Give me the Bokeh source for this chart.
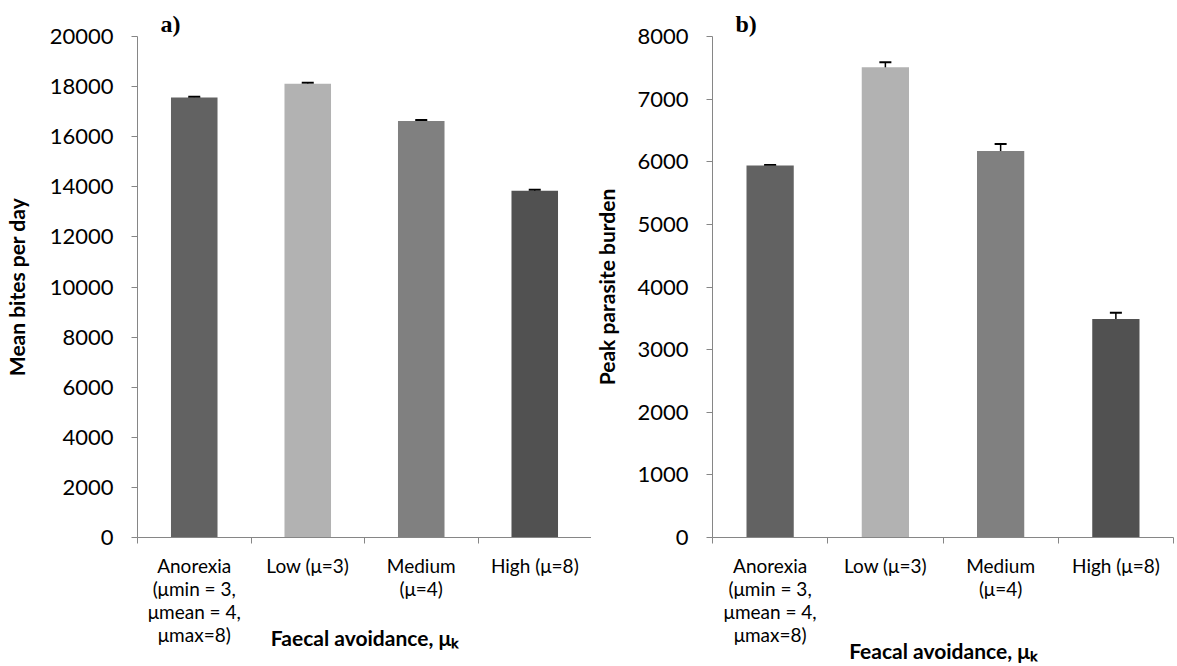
import numpy as np
from bokeh.plotting import figure
from bokeh.layouts import row
from bokeh.models import (Range1d, FixedTicker, SingleIntervalTicker, Whisker,
                          ColumnDataSource, TeeHead, Title)
from bokeh.embed import file_html
from bokeh.resources import INLINE

# ---- data ----
categories = ["Anorexia\n(μmin = 3,\nμmean = 4,\nμmax=8)", "Low (μ=3)", "Medium\n(μ=4)", "High (μ=8)"]
bar_colors = ["#626262", "#b2b2b2", "#808080", "#515151"]
bites_mean = [17560, 18110, 16630, 13840]
bites_err = [30, 40, 35, 40]
burden_mean = [5940, 7510, 6170, 3490]
burden_err = [10, 80, 115, 100]

FONT = "Lato"
AXIS_COLOR = "#868686"
FIG_H = 666
TOP_B = 36
FRAME_H = 501
BOT_B = FIG_H - TOP_B - FRAME_H


def make_panel(vals, errs, ymax, step, fig_w, border_left, border_right, letter, letter_off,
               ytitle, ytitle_standoff, xtitle, xtitle_standoff):
    n = len(vals)
    p = figure(width=fig_w, height=FIG_H, output_backend="svg", toolbar_location=None,
               x_range=Range1d(0, n), y_range=Range1d(0, ymax),
               min_border_left=border_left, min_border_right=border_right,
               min_border_top=TOP_B, min_border_bottom=BOT_B)
    p.outline_line_color = None
    p.xgrid.grid_line_color = None
    p.ygrid.grid_line_color = None
    p.background_fill_color = "white"
    p.border_fill_color = "white"

    xs = list(np.arange(n) + 0.5)
    src = ColumnDataSource(dict(x=xs, top=vals, color=bar_colors,
                                lo=[v - e for v, e in zip(vals, errs)],
                                hi=[v + e for v, e in zip(vals, errs)]))
    p.vbar(x="x", top="top", bottom=0, width=0.41, fill_color="color", line_color=None, source=src)
    w = Whisker(base="x", lower="lo", upper="hi", source=src, line_color="black", line_width=1.5,
                upper_head=TeeHead(size=12, line_width=2, line_color="black"),
                lower_head=TeeHead(size=12, line_width=2, line_color="black"))
    p.add_layout(w)

    # x axis
    xa = p.xaxis[0]
    xa.ticker = FixedTicker(ticks=xs, minor_ticks=list(range(n + 1)))
    xa.major_label_overrides = {x: c for x, c in zip(xs, categories)}
    xa.major_tick_out = 0
    xa.major_tick_in = 0
    xa.minor_tick_out = 6
    xa.minor_tick_in = 0
    xa.minor_tick_line_color = AXIS_COLOR
    xa.axis_line_color = AXIS_COLOR
    xa.major_label_text_font = FONT
    xa.major_label_text_font_size = "19px"
    xa.major_label_text_color = "#000000"
    xa.major_label_text_line_height = 1.0
    xa.major_label_standoff = 10
    xa.major_label_text_align = "center"
    xa.axis_label = xtitle
    xa.axis_label_text_font = FONT
    xa.axis_label_text_font_style = "bold"
    xa.axis_label_text_font_size = "21px"
    xa.axis_label_text_color = "#000000"
    xa.axis_label_standoff = xtitle_standoff

    ya = p.yaxis[0]
    ya.ticker = SingleIntervalTicker(interval=step, num_minor_ticks=0)
    ya.axis_line_color = AXIS_COLOR
    ya.major_tick_line_color = AXIS_COLOR
    ya.major_tick_out = 6
    ya.major_tick_in = 0
    ya.minor_tick_line_color = None
    ya.major_label_text_font = FONT
    ya.major_label_text_font_size = "22px"
    ya.major_label_text_color = "#000000"
    ya.major_label_standoff = 18
    ya.axis_label = ytitle
    ya.axis_label_text_font = FONT
    ya.axis_label_text_font_style = "bold"
    ya.axis_label_text_font_size = "21px"
    ya.axis_label_text_color = "#000000"
    ya.axis_label_standoff = ytitle_standoff

    p.add_layout(Title(text=letter, align="left", offset=letter_off, standoff=0,
                       text_font="Liberation Serif", text_font_style="bold",
                       text_font_size="24px", text_color="black"), "above")
    return p


pa = make_panel(bites_mean, bites_err, 20000, 2000, 591, 137, 0, "a)", 23,
                "Mean bites per day", 18, "Faecal avoidance, μₖ", -24)
pb = make_panel(burden_mean, burden_err, 8000, 1000, 586, 117, 4, "b)", 23,
                "Peak parasite burden", 15, "Feacal avoidance, μₖ", -11)

layout = row(pa, pb)
open("out.html", "w").write(file_html(layout, INLINE))
